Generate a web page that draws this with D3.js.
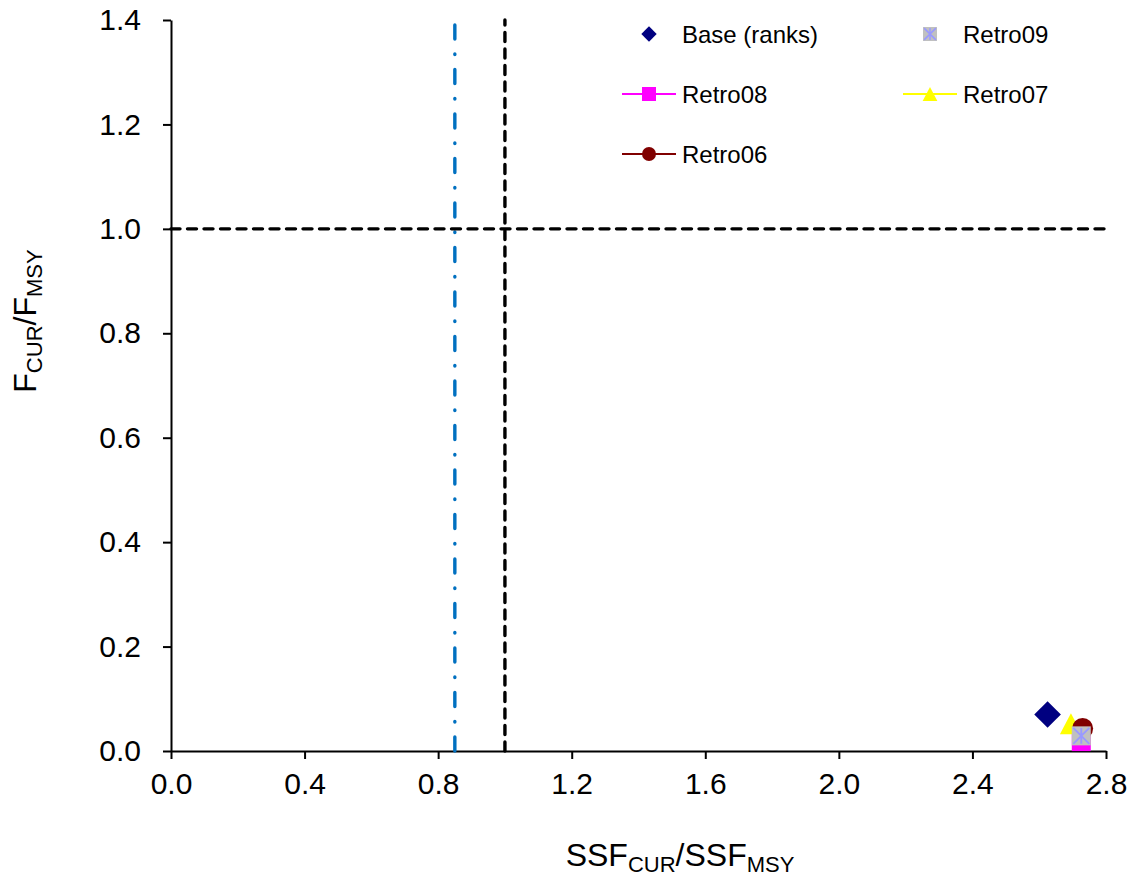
<!DOCTYPE html>
<html>
<head>
<meta charset="utf-8">
<script src="https://cdn.jsdelivr.net/npm/d3@7"></script>
<style>
  body { margin: 0; background: #fff; }
  svg { display: block; font-family: "Liberation Sans", Arial, sans-serif; }
</style>
</head>
<body>
<svg id="chart" width="1133" height="877"></svg>
<script>
// ---- data ----
const seriesNames = ["Base (ranks)", "Retro08", "Retro07", "Retro06", "Retro09"];
const ssfRatio   = [2.625, 2.726, 2.695, 2.730, 2.726];
const fRatio     = [0.070, 0.018, 0.052, 0.043, 0.029];
const xTicks = [0.0, 0.4, 0.8, 1.2, 1.6, 2.0, 2.4, 2.8];
const yTicks = [0.0, 0.2, 0.4, 0.6, 0.8, 1.0, 1.2, 1.4];
const refVertical = [1.0];      // SSF/SSFmsy = 1
const refVerticalAlt = [0.85];  // dash-dot limit
const refHorizontal = [1.0];    // F/Fmsy = 1
const legendOrder = ["Base (ranks)", "Retro09", "Retro08", "Retro07", "Retro06"];

const styles = {
  "Base (ranks)": {shape: "diamond", fill: "#000080", stroke: "#000080", line: null},
  "Retro09": {shape: "asterisk", fill: "#C0C0C0", stroke: "#9999FF", line: null},
  "Retro08": {shape: "square", fill: "#FF00FF", stroke: "#FF00FF", line: "#FF00FF"},
  "Retro07": {shape: "triangle", fill: "#FFFF00", stroke: "#FFFF00", line: "#FFFF00"},
  "Retro06": {shape: "circle", fill: "#800000", stroke: "#800000", line: "#800000"}
};

const svg = d3.select("#chart");
const x = d3.scaleLinear().domain([0, 2.8]).range([171, 1106]);
const y = d3.scaleLinear().domain([0, 1.4]).range([751, 20]);

// ---- axes ----
const xAxis = svg.append("g").attr("transform", "translate(0,751)")
  .call(d3.axisBottom(x).tickValues(xTicks).tickFormat(d3.format(".1f")).tickSize(8).tickSizeOuter(0).tickPadding(14));
const yAxis = svg.append("g").attr("transform", "translate(171,0)")
  .call(d3.axisLeft(y).tickValues(yTicks).tickFormat(d3.format(".1f")).tickSize(8).tickSizeOuter(0).tickPadding(22));
[xAxis, yAxis].forEach(g => {
  g.select(".domain").attr("stroke", "#000").attr("stroke-width", 2);
  g.selectAll(".tick line").attr("stroke", "#000").attr("stroke-width", 2);
  g.selectAll(".tick text").attr("font-size", 30).attr("fill", "#000")
    .attr("font-family", "'Liberation Sans', Arial, sans-serif");
});

// ---- reference lines ----
svg.selectAll(".refv").data(refVertical).join("line")
  .attr("x1", d => x(d)).attr("x2", d => x(d)).attr("y1", y(0)).attr("y2", y(1.4))
  .attr("stroke", "#000").attr("stroke-width", 3.4).attr("stroke-dasharray", "9,7.5").attr("stroke-linecap", "round");
svg.selectAll(".refva").data(refVerticalAlt).join("line")
  .attr("x1", d => x(d)).attr("x2", d => x(d)).attr("y1", y(0)).attr("y2", y(1.4))
  .attr("stroke", "#0070C0").attr("stroke-width", 3.4).attr("stroke-dasharray", "14,15,0.5,15").attr("stroke-linecap", "round");
svg.selectAll(".refh").data(refHorizontal).join("line")
  .attr("x1", x(0)).attr("x2", x(2.8)).attr("y1", d => y(d)).attr("y2", d => y(d))
  .attr("stroke", "#000").attr("stroke-width", 3.4).attr("stroke-dasharray", "9,7.5").attr("stroke-linecap", "round");

// ---- marker drawing ----
function drawMarker(g, shape, cx, cy, s, st) {
  if (shape === "diamond") {
    const h = s * 0.7;
    g.append("path").attr("d", `M${cx},${cy-h}L${cx+h},${cy}L${cx},${cy+h}L${cx-h},${cy}Z`)
      .attr("fill", st.fill);
  } else if (shape === "square") {
    g.append("rect").attr("x", cx - s/2).attr("y", cy - s/2).attr("width", s).attr("height", s).attr("fill", st.fill);
  } else if (shape === "triangle") {
    const h = s * 0.5;
    g.append("path").attr("d", `M${cx},${cy-h}L${cx+h*1.05},${cy+h}L${cx-h*1.05},${cy+h}Z`).attr("fill", st.fill);
  } else if (shape === "circle") {
    g.append("circle").attr("cx", cx).attr("cy", cy).attr("r", s/2).attr("fill", st.fill);
  } else if (shape === "asterisk") {
    g.append("rect").attr("x", cx - s/2).attr("y", cy - s/2).attr("width", s).attr("height", s).attr("fill", st.fill);
    const a = s * 0.42;
    const p = `M${cx-a},${cy-a}L${cx+a},${cy+a}M${cx-a},${cy+a}L${cx+a},${cy-a}M${cx},${cy-a}L${cx},${cy+a}`;
    g.append("path").attr("d", p).attr("stroke", st.stroke).attr("stroke-width", Math.max(1.5, s/10)).attr("fill", "none");
  }
}

// ---- data points ----
const sizes = {"Base (ranks)": 19, "Retro08": 19, "Retro07": 21, "Retro06": 21, "Retro09": 19};
const pts = svg.append("g");
seriesNames.forEach((name, i) => {
  const st = styles[name];
  drawMarker(pts, st.shape, x(ssfRatio[i]), y(fRatio[i]), sizes[name], st);
});

// ---- legend ----
const legendPos = [[649, 34], [930, 34], [649, 94], [930, 94], [649, 154]];
const lg = svg.append("g");
legendOrder.forEach((name, i) => {
  const [lx, ly] = legendPos[i];
  const st = styles[name];
  if (st.line) {
    lg.append("line").attr("x1", lx - 27).attr("x2", lx + 27).attr("y1", ly).attr("y2", ly)
      .attr("stroke", st.line).attr("stroke-width", 2);
  }
  const ms = name === "Base (ranks)" ? 11 : 14;
  drawMarker(lg, st.shape, lx, ly, ms, st);
  lg.append("text").attr("x", lx + 33).attr("y", ly + 9).attr("font-size", 24).attr("fill", "#000").text(name);
});

// ---- axis titles ----
const xt = svg.append("text").attr("x", 680).attr("y", 866).attr("text-anchor", "middle").attr("fill", "#000");
xt.append("tspan").attr("font-size", 32).text("SSF");
xt.append("tspan").attr("font-size", 22).attr("dy", 6).text("CUR");
xt.append("tspan").attr("font-size", 32).attr("dy", -6).text("/SSF");
xt.append("tspan").attr("font-size", 22).attr("dy", 6).text("MSY");

const yt = svg.append("text").attr("transform", "translate(36,321) rotate(-90)").attr("text-anchor", "middle").attr("fill", "#000");
yt.append("tspan").attr("font-size", 32).text("F");
yt.append("tspan").attr("font-size", 22).attr("dy", 6).text("CUR");
yt.append("tspan").attr("font-size", 32).attr("dy", -6).text("/F");
yt.append("tspan").attr("font-size", 22).attr("dy", 6).text("MSY");
</script>
</body>
</html>
